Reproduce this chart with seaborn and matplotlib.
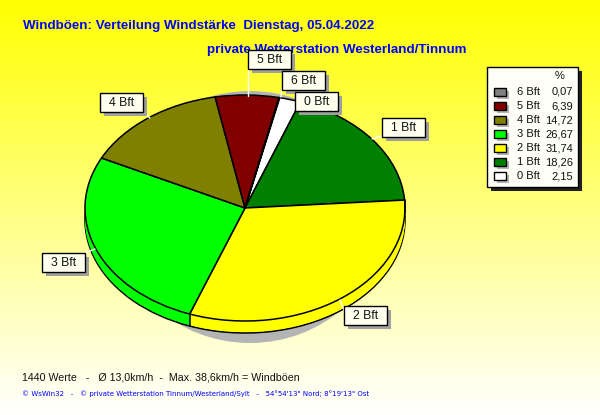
import numpy as np
import seaborn as sns
import matplotlib.pyplot as plt
from matplotlib.patches import Rectangle, Ellipse

# values from the legend
labels = ["0 Bft", "1 Bft", "2 Bft", "3 Bft", "4 Bft", "5 Bft", "6 Bft"]
percent = [2.15, 18.26, 31.74, 26.67, 14.72, 6.39, 0.07]
percent_text = ["2,15", "18,26", "31,74", "26,67", "14,72", "6,39", "0,07"]
colors = ["#ffffff", "#008000", "#ffff00", "#00ff00", "#808000", "#800000", "#808080"]

title = "Windböen: Verteilung Windstärke  Dienstag, 05.04.2022"
subtitle = "private Wetterstation Westerland/Tinnum"
stats = "1440 Werte   -   Ø 13,0km/h  -  Max. 38,6km/h = Windböen"
footer = "© WsWin32   -   © private Wetterstation Tinnum/Westerland/Sylt   -   54°54'13\" Nord; 8°19'13\" Ost"

sns.set_theme(style="white")
plt.rcParams['font.family'] = ['Liberation Sans', 'DejaVu Sans']
palette = sns.color_palette(colors)

W, H = 600, 415
cx, cy, rx, ry = 245, 208, 160, 113
depth = 12 / ry
start = 77.5

fig = plt.figure(figsize=(W / 100, H / 100), dpi=100)

# background, pixel coordinates
bg = fig.add_axes([0, 0, 1, 1], zorder=0)
bg.set_xlim(0, W)
bg.set_ylim(H, 0)
bg.axis('off')
grad = np.ones((H, 1, 3))
grad[:, 0, 2] = np.linspace(0, 1, H)
bg.imshow(grad, extent=(0, W, H, 0), aspect='auto')
bg.add_patch(Ellipse((250, 217), 135 * 2, 126 * 2, color="#b4b4b4", lw=0))

# pie, units of the radius so the wedges come out elliptical
ax = fig.add_axes([0, 0, 1, 1], zorder=1)
edge = dict(edgecolor="black", linewidth=1.1)
ax.pie(percent, colors=palette, startangle=start, counterclock=False,
       center=(0, -depth), wedgeprops=edge)
for off in np.linspace(-depth, 0, 13)[1:-1]:
    ax.pie(percent, colors=palette, startangle=start, counterclock=False,
           center=(0, off), wedgeprops=dict(linewidth=0))
bounds = start - np.cumsum(percent) * 3.6
for b in bounds:
    x, y = np.cos(np.radians(b)), np.sin(np.radians(b))
    if y < 0.1:
        ax.plot([x, x], [y, y - depth], color="black", lw=1.1)
ax.pie(percent, colors=palette, startangle=start, counterclock=False, wedgeprops=edge)
ax.set_aspect('auto')
ax.set_xlim(-cx / rx, (W - cx) / rx)
ax.set_ylim((cy - H) / ry, cy / ry)
ax.axis('off')

# overlay, pixel coordinates again
top = fig.add_axes([0, 0, 1, 1], zorder=2)
top.set_xlim(0, W)
top.set_ylim(H, 0)
top.axis('off')
top.patch.set_alpha(0)

top.text(23, 26, title, color="#0000ff", fontsize=9.6, fontweight='bold', va='center')
top.text(207, 49.5, subtitle, color="#0000ff", fontsize=9.6, fontweight='bold', va='center')
top.text(22, 377, stats, color="#111111", fontsize=7.65, va='center')
top.text(22, 394, footer, color="#0000ff", fontsize=5.0, va='center', family='DejaVu Sans')

# callout boxes: label, box x0, y0, leader from, leader to
boxes = {
    "5 Bft": (248, 50, (248, 69), (248, 96)),
    "6 Bft": (282, 71, (282, 89), (281, 97)),
    "0 Bft": (295, 92, (295, 110), (295, 101)),
    "1 Bft": (382, 118, (382, 136), (372, 139)),
    "4 Bft": (100, 93, (143, 112), (150, 118)),
    "3 Bft": (42, 253, (85, 253), (95, 249)),
    "2 Bft": (344, 306, (344, 310), (340, 300)),
}
for name, (x0, y0, p0, p1) in boxes.items():
    w, h = 43, 19
    top.plot([p0[0], p1[0]], [p0[1], p1[1]], color="white", lw=1, zorder=3)
    top.add_patch(Rectangle((x0 + 4, y0 + 4), w, h, color="#a0a0a0", lw=0, zorder=4))
    top.add_patch(Rectangle((x0, y0), w, h, fc="#fffff0", ec="black", lw=1, zorder=5))
    top.text(x0 + w / 2, y0 + h / 2 + 0.5, name, ha='center', va='center', fontsize=8.8,
             color="#111111", zorder=6)

# legend table
top.add_patch(Rectangle((491, 71), 91, 120, color="#202020", lw=0, zorder=3))
top.add_patch(Rectangle((487, 67), 91, 120, fc="#fffff8", ec="black", lw=1, zorder=4))
top.text(560, 76, "%", ha='center', va='center', fontsize=8, color="#111111", zorder=5)
for i, name in enumerate(labels):
    y = 176 - i * 14
    top.add_patch(Rectangle((497, y - 1), 12, 8, color="#b4b4b4", lw=0, zorder=5))
    top.add_patch(Rectangle((494, y - 4), 12, 8, fc=palette[i], ec="black", lw=1, zorder=6))
    top.text(517, y, name, va='center', fontsize=8, color="#111111", zorder=6)
    top.text(573, y, percent_text[i], va='center', ha='right', fontsize=8, color="#111111", zorder=6)

plt.savefig("out.png", dpi=100)
